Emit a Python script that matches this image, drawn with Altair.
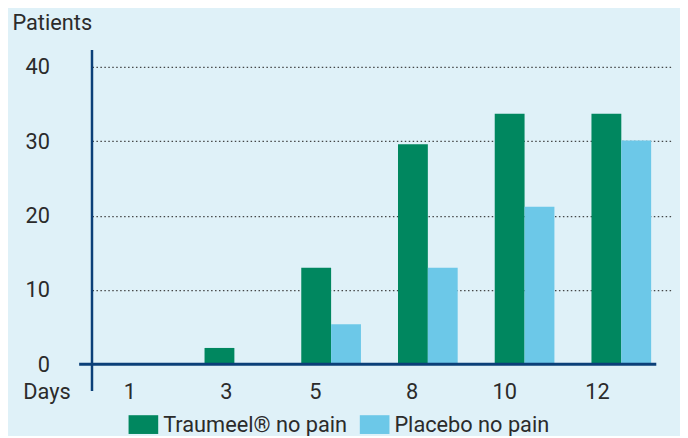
import altair as alt
import pandas as pd

days = ["1", "3", "5", "8", "10", "12"]
traumeel = [0, 2.2, 13, 29.6, 33.7, 33.7]
placebo = [0, 0, 5.4, 13, 21.2, 30.1]
series = ["Traumeel® no pain", "Placebo no pain"]
colors = ["#00875f", "#6cc8e8"]
y_ticks = [0, 10, 20, 30, 40]

rows = []
for d, t, p in zip(days, traumeel, placebo):
    rows.append({"day": d, "series": series[0], "value": t})
    rows.append({"day": d, "series": series[1], "value": p})
df = pd.DataFrame(rows)

FONT = "Roboto, sans-serif"
FS = 22
TXT = "#2b2b2b"
AX = "#0b3f78"
W, H = 587, 318

x = alt.X(
    "day:N", sort=days,
    scale=alt.Scale(paddingInner=0.383, paddingOuter=0.19, align=0.43),
    axis=alt.Axis(title="Days", labelAngle=0, domain=False, ticks=False,
                  labelPadding=28, labelBaseline="middle",
                  labelOffset={"condition": [
                      {"test": "datum.value === '1' || datum.value === '3'", "value": -8},
                      {"test": "datum.value === '5' || datum.value === '8'", "value": -16},
                      {"test": "datum.value === '10'", "value": -20}],
                      "value": -24},
                  labelFontSize=FS, titleFontSize=FS, titleFontWeight="normal",
                  titleX=-70, titleY=28, titleAlign="left", titleBaseline="middle"),
)
y = alt.Y(
    "value:Q",
    scale=alt.Scale(domain=[0, 42.26], nice=False, zero=True),
    axis=alt.Axis(values=y_ticks, title="Patients", titleAngle=0, titleX=-81, titleY=-28,
                  titleAlign="left", titleBaseline="middle", titleFontSize=FS,
                  titleFontWeight="normal", domain=False, ticks=False, labelPadding=43,
                  labelFontSize=FS, grid=True, gridDash=[1.5, 2.5], gridColor="#333333",
                  gridWidth=1.2,
                  gridOpacity={"condition": {"test": "datum.value === 0", "value": 0}, "value": 0.9}),
)

bars = alt.Chart(df).mark_bar().encode(
    x=x, y=y,
    xOffset=alt.XOffset("series:N", sort=series),
    color=alt.Color("series:N", sort=series,
                    scale=alt.Scale(domain=series, range=colors),
                    legend=alt.Legend(orient="none", legendX=37, legendY=364,
                                      direction="horizontal", title=None,
                                      symbolType="M-1,-0.633H1V0.633H-1Z",
                                      symbolSize=900, symbolStrokeWidth=0, symbolOpacity=1,
                                      labelFontSize=FS, labelOffset=5, columnPadding=12,
                                      labelLimit=300, labelColor=TXT, labelFont=FONT)),
)

one = pd.DataFrame({"a": [0]})
yline = alt.Chart(one).mark_rule(color=AX, strokeWidth=2.5).encode(
    x=alt.value(0), y=alt.value(0), y2=alt.value(345))
xline = alt.Chart(one).mark_rule(color=AX, strokeWidth=3).encode(
    x=alt.value(-13), x2=alt.value(571), y=alt.datum(0))

chart = alt.layer(bars, yline, xline).properties(
    width=W, height=H,
    padding={"left": 85, "top": 40, "right": 8, "bottom": 70},
    autosize=alt.AutoSizeParams(type="none"),
    background="#dff1f8",
).configure_view(stroke=None).configure_axis(
    labelFont=FONT, titleFont=FONT, labelColor=TXT, titleColor=TXT,
).configure_legend(labelFont=FONT)

chart.save("out.html", embed_options={"renderer": "svg", "actions": False})
